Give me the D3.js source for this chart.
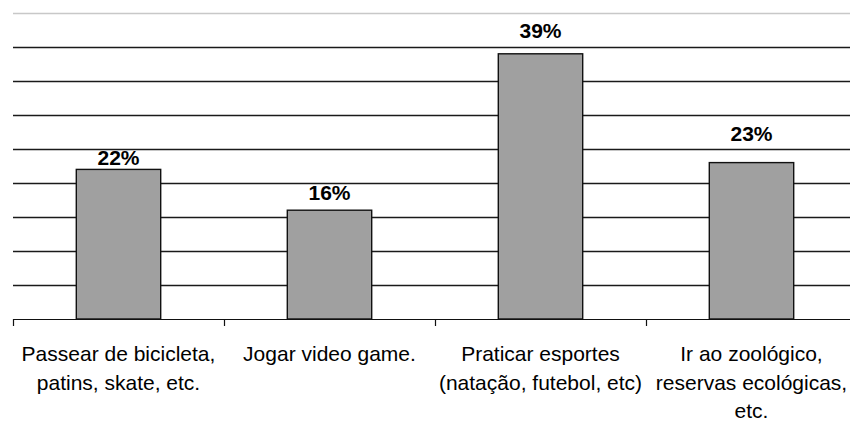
<!DOCTYPE html>
<html>
<head>
<meta charset="utf-8">
<script src="https://cdn.jsdelivr.net/npm/d3@7"></script>
<style>
  html, body { margin: 0; padding: 0; background: #fff; }
  svg { display: block; }
  text { font-family: "Liberation Sans", Arial, sans-serif; }
</style>
</head>
<body>
<div id="chart"></div>
<script>
// Activity categories (each entry split into its printed lines)
const categories = [
  ["Passear de bicicleta,", "patins, skate, etc."],
  ["Jogar video game."],
  ["Praticar esportes", "(natação, futebol, etc)"],
  ["Ir ao zoológico,", "reservas ecológicas,", "etc."]
];
const values = [22, 16, 39, 23];
const gridTicks = [5, 10, 15, 20, 25, 30, 35, 40, 45];

const width = 850, height = 422;
const plot = { left: 13, right: 857, top: 13, bottom: 319 };

const svg = d3.select("#chart").append("svg")
  .attr("width", width).attr("height", height);

const x = d3.scaleBand()
  .domain(d3.range(categories.length))
  .range([plot.left, plot.right])
  .paddingInner(0).paddingOuter(0);

const y = d3.scaleLinear().domain([0, 45]).range([plot.bottom, plot.top]);

// horizontal gridlines; the top one is the lighter plot-area edge
svg.append("g").selectAll("line")
  .data(gridTicks)
  .join("line")
  .attr("x1", plot.left).attr("x2", width)
  .attr("y1", d => Math.round(y(d)) + 0.5)
  .attr("y2", d => Math.round(y(d)) + 0.5)
  .attr("stroke", d => d === 45 ? "#c8c8c8" : "#1a1a1a")
  .attr("stroke-width", d => d === 45 ? 1.5 : 1.6);

// bars: width is 40% of the category slot
const barW = x.bandwidth() * 0.4;
svg.append("g").selectAll("rect")
  .data(values)
  .join("rect")
  .attr("x", (d, i) => x(i) + (x.bandwidth() - barW) / 2)
  .attr("y", d => y(d))
  .attr("width", barW)
  .attr("height", d => y(0) - y(d))
  .attr("fill", "#a0a0a0")
  .attr("stroke", "#111")
  .attr("stroke-width", 1.4);

// category axis with ticks between categories
const axis = svg.append("g");
axis.append("line")
  .attr("x1", plot.left).attr("x2", width)
  .attr("y1", y(0) + 0.5).attr("y2", y(0) + 0.5)
  .attr("stroke", "#111").attr("stroke-width", 1.2);
axis.selectAll("line.tick")
  .data(d3.range(categories.length))
  .join("line")
  .attr("class", "tick")
  .attr("x1", i => Math.round(x(i)) + 0.5)
  .attr("x2", i => Math.round(x(i)) + 0.5)
  .attr("y1", y(0)).attr("y2", y(0) + 7)
  .attr("stroke", "#111").attr("stroke-width", 1.2);

// value labels above bars; the gap above each bar widens a little
// from left to right
svg.append("g").selectAll("text")
  .data(values)
  .join("text")
  .attr("x", (d, i) => x(i) + x.bandwidth() / 2)
  .attr("y", (d, i) => y(d) - (4 + 6 * i))
  .attr("text-anchor", "middle")
  .attr("font-size", 21)
  .attr("font-weight", "bold")
  .attr("fill", "#000")
  .text(d => d + "%");

// category labels
const lab = svg.append("g").selectAll("text")
  .data(categories)
  .join("text")
  .attr("text-anchor", "middle")
  .attr("font-size", 21)
  .attr("fill", "#000");
lab.selectAll("tspan")
  .data((d, i) => d.map(s => ({ s, i })))
  .join("tspan")
  .attr("x", d => x(d.i) + x.bandwidth() / 2)
  .attr("y", (d, j) => 361 + j * 28.5)
  .text(d => d.s);
</script>
</body>
</html>
